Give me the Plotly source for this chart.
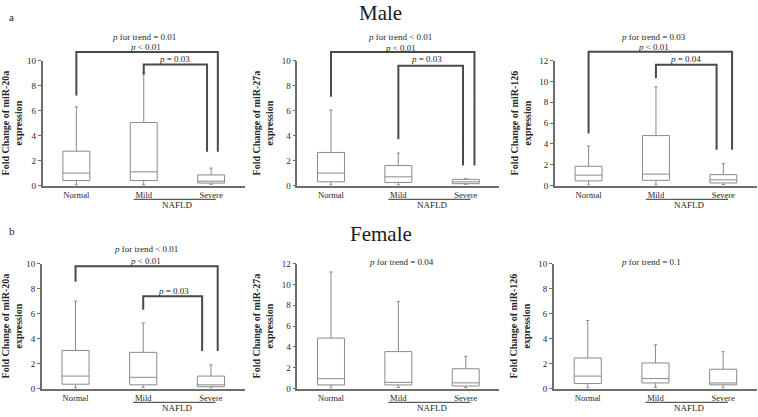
import plotly.graph_objects as go

W, H = 758, 417
categories = ["Normal", "Mild", "Severe"]

panel_titles_y = ["Fold Change of miR-20a<br>expression", "Fold Change of miR-27a<br>expression",
                  "Fold Change of miR-126<br>expression", "Fold Change of miR-20a<br>expression",
                  "Fold Change of miR-27a<br>expression", "Fold Change of miR-126<br>expression"]
y_max = [10, 10, 12, 10, 12, 10]

# box statistics per panel: [Normal, Mild, Severe]
male_20a_min = [0.05, 0.05, 0.1]
male_20a_q1 = [0.4, 0.4, 0.2]
male_20a_med = [1.0, 1.1, 0.35]
male_20a_q3 = [2.75, 5.05, 0.85]
male_20a_max = [6.3, 9.0, 1.4]

male_27a_min = [0.05, 0.05, 0.1]
male_27a_q1 = [0.3, 0.25, 0.15]
male_27a_med = [1.0, 0.7, 0.3]
male_27a_q3 = [2.65, 1.6, 0.5]
male_27a_max = [6.05, 2.6, 0.55]

male_126_min = [0.05, 0.05, 0.1]
male_126_q1 = [0.45, 0.5, 0.25]
male_126_med = [1.0, 1.1, 0.55]
male_126_q3 = [1.85, 4.8, 1.05]
male_126_max = [3.8, 9.5, 2.1]

female_20a_min = [0.05, 0.1, 0.05]
female_20a_q1 = [0.35, 0.3, 0.15]
female_20a_med = [1.0, 0.9, 0.3]
female_20a_q3 = [3.05, 2.9, 1.0]
female_20a_max = [7.0, 5.25, 1.9]

female_27a_min = [0.05, 0.1, 0.1]
female_27a_q1 = [0.35, 0.35, 0.25]
female_27a_med = [0.95, 0.6, 0.55]
female_27a_q3 = [4.85, 3.55, 1.9]
female_27a_max = [11.2, 8.35, 3.1]

female_126_min = [0.05, 0.1, 0.05]
female_126_q1 = [0.4, 0.45, 0.3]
female_126_med = [1.0, 0.8, 0.45]
female_126_q3 = [2.45, 2.05, 1.55]
female_126_max = [5.45, 3.5, 2.95]

stats = [
    (male_20a_min, male_20a_q1, male_20a_med, male_20a_q3, male_20a_max),
    (male_27a_min, male_27a_q1, male_27a_med, male_27a_q3, male_27a_max),
    (male_126_min, male_126_q1, male_126_med, male_126_q3, male_126_max),
    (female_20a_min, female_20a_q1, female_20a_med, female_20a_q3, female_20a_max),
    (female_27a_min, female_27a_q1, female_27a_med, female_27a_q3, female_27a_max),
    (female_126_min, female_126_q1, female_126_med, female_126_q3, female_126_max),
]

# significance brackets: (x_left, x_right, y_top, y_left_end, y_right_end)
brackets = [
    [(0, 2.1, 10.7, 7.2, 2.7), (1.0, 1.94, 9.7, 8.9, 2.7)],
    [(0, 2.13, 10.7, 7.1, 1.6), (1.0, 1.96, 9.6, 3.7, 1.6)],
    [(0, 2.13, 12.85, 5.0, 3.45), (1.0, 1.9, 11.6, 10.3, 3.45)],
    [(0, 2.1, 9.8, 8.55, 3.0), (1.0, 1.87, 7.4, 6.3, 3.0)],
    [],
    [],
]
# p-value texts: (x, y, text)
p_texts = [
    [(1.0, 11.9, "<i>p</i> for trend = 0.01"), (1.02, 11.1, "<i>p</i> < 0.01"), (1.45, 10.1, "<i>p</i> = 0.03")],
    [(1.03, 11.9, "<i>p</i> for trend < 0.01"), (1.03, 11.0, "<i>p</i> < 0.01"), (1.42, 10.1, "<i>p</i> = 0.03")],
    [(0.97, 14.25, "<i>p</i> for trend = 0.03"), (0.97, 13.3, "<i>p</i> < 0.01"), (1.44, 12.2, "<i>p</i> = 0.04")],
    [(1.04, 11.2, "<i>p</i> for trend < 0.01"), (1.04, 10.2, "<i>p</i> < 0.01"), (1.44, 7.8, "<i>p</i> = 0.03")],
    [(1.04, 12.2, "<i>p</i> for trend = 0.04")],
    [(0.93, 10.1, "<i>p</i> for trend = 0.1")],
]

# layout geometry (pixels)
x_px = [(36, 240), (293, 497), (553, 757), (35, 240), (293, 497), (552, 757)]
y_px = [(185, 57), (185, 57), (185, 57), (393, 265), (393, 265), (393, 265)]

FONT = "Liberation Serif, Times New Roman, serif"
TXT = "#262626"
AX = "#6e6e6e"
BR = "#4a4a4a"

fig = go.Figure()
shapes, annotations = [], []

def xd(v):
    return (v + 0.5) / 3.0

for i in range(6):
    n = i + 1
    xa = "x" if n == 1 else f"x{n}"
    ya = "y" if n == 1 else f"y{n}"
    mn, q1, md, q3, mx = stats[i]
    fig.add_trace(go.Box(
        x=categories, q1=q1, median=md, q3=q3, lowerfence=mn, upperfence=mx,
        xaxis=xa, yaxis=ya, width=0.4, whiskerwidth=0.12,
        fillcolor="white", line=dict(color="#8a8a8a", width=1),
        boxpoints=False, showlegend=False, hoverinfo="skip"))
    x0, x1 = x_px[i]
    yb, yt = y_px[i]
    fig.layout[f"xaxis{'' if n == 1 else n}"] = dict(
        domain=[x0 / W, x1 / W], anchor=ya, range=[-0.5, 2.5],
        showline=True, linecolor=AX, linewidth=1.5, ticks="", showgrid=False,
        zeroline=False, tickfont=dict(family=FONT, size=8.5, color=TXT),
        categoryorder="array", categoryarray=categories, fixedrange=True)
    ym = y_max[i]
    fig.layout[f"yaxis{'' if n == 1 else n}"] = dict(
        domain=[(H - yb) / H, (H - yt) / H], anchor=xa, range=[0, ym],
        dtick=2, showline=True, linecolor=AX, linewidth=1.5, ticks="outside",
        ticklen=3, tickcolor=AX, showgrid=False, zeroline=False,
        tickfont=dict(family=FONT, size=9, color=TXT),
        title=dict(text="<b>" + panel_titles_y[i] + "</b>", standoff=6,
                   font=dict(family=FONT, size=10, color=TXT)),
        fixedrange=True)
    xr, yr = f"{xa} domain", f"{ya} domain"
    for (xl, xrt, ytop, yl, yre) in brackets[i]:
        shapes.append(dict(type="path", xref=xr, yref=yr,
                           path=f"M {xd(xl)} {yl / ym} L {xd(xl)} {ytop / ym} L {xd(xrt)} {ytop / ym} L {xd(xrt)} {yre / ym}",
                           line=dict(color=BR, width=2)))
    for (tx, ty, tt) in p_texts[i]:
        annotations.append(dict(xref=xr, yref=yr, x=xd(tx), y=ty / ym, text=tt, showarrow=False,
                                xanchor="center", yanchor="middle",
                                font=dict(family=FONT, size=9, color=TXT)))
    # NAFLD group underline and label
    shapes.append(dict(type="line", xref=xr, yref=yr, x0=xd(0.85), x1=xd(2.07),
                       y0=-0.11, y1=-0.11, line=dict(color="#333333", width=1)))
    annotations.append(dict(xref=xr, yref=yr, x=xd(1.5), y=-0.158, text="NAFLD", showarrow=False,
                            xanchor="center", yanchor="middle",
                            font=dict(family=FONT, size=9, color=TXT)))

annotations += [
    dict(xref="paper", yref="paper", x=377 / W, y=(H - 8) / H, text="Male", showarrow=False,
         xanchor="center", yanchor="middle", font=dict(family=FONT, size=21, color="#1a1a1a")),
    dict(xref="paper", yref="paper", x=377 / W, y=(H - 235) / H, text="Female", showarrow=False,
         xanchor="center", yanchor="middle", font=dict(family=FONT, size=21, color="#1a1a1a")),
    dict(xref="paper", yref="paper", x=5 / W, y=(H - 12) / H, text="a", showarrow=False,
         xanchor="center", yanchor="middle", font=dict(family=FONT, size=11, color="#1a1a1a")),
    dict(xref="paper", yref="paper", x=5 / W, y=(H - 232) / H, text="b", showarrow=False,
         xanchor="center", yanchor="middle", font=dict(family=FONT, size=11, color="#1a1a1a")),
]

fig.update_layout(width=W, height=H, margin=dict(l=0, r=0, t=0, b=0),
                  paper_bgcolor="white", plot_bgcolor="white",
                  shapes=shapes, annotations=annotations, showlegend=False)

fig.write_html("out.html", config={"displayModeBar": False},
               post_script="document.body.style.margin='0';document.body.style.overflow='hidden';")
